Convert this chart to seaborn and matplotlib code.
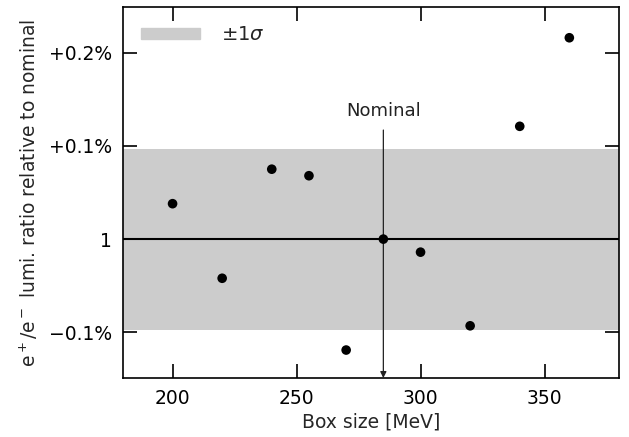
import matplotlib
matplotlib.use("Agg")
import matplotlib.pyplot as plt
import matplotlib.patches as mpatches
import seaborn as sns
import pandas as pd

# Box size scan: luminosity ratio shift relative to the nominal box (in %)
box_size = [200, 220, 240, 255, 270, 285, 300, 320, 340, 360]
ratio_shift_pct = [0.038, -0.042, 0.075, 0.068, -0.119, 0.0, -0.014, -0.093, 0.121, 0.216]
sigma_pct = 0.097
nominal_box = 285

ytick_values = [-0.1, 0.0, 0.1, 0.2]
ytick_labels = ["\u22120.1%", "1", "+0.1%", "+0.2%"]
xtick_values = [200, 250, 300, 350]

sns.set_theme(style="ticks")
plt.rcParams["font.family"] = ["DejaVu Sans"]
plt.rcParams["mathtext.fontset"] = "dejavusans"
plt.rcParams["xtick.direction"] = "in"
plt.rcParams["ytick.direction"] = "in"

df = pd.DataFrame({"box": box_size, "shift": ratio_shift_pct})

fig = plt.figure(figsize=(6.29, 4.37), dpi=100)
ax = fig.add_axes([0.1955, 0.135, 0.7885, 0.849])

ax.axhspan(-sigma_pct, sigma_pct, color="#cccccc", lw=0, zorder=0)
ax.axhline(0.0, color="black", lw=1.5, zorder=1)

sns.scatterplot(data=df, x="box", y="shift", ax=ax, color="black",
                s=48, edgecolor="none", zorder=3, legend=False)

ax.set_xlim(180, 380)
ax.set_ylim(-0.149, 0.249)

ax.annotate("", xy=(nominal_box, -0.149), xytext=(nominal_box, 0.117),
            arrowprops=dict(arrowstyle="-|>", color="#222222", lw=0.9,
                            mutation_scale=9, shrinkA=0, shrinkB=0),
            annotation_clip=False, zorder=2)
ax.text(nominal_box, 0.128, "Nominal", ha="center", va="bottom",
        fontsize=13, color="#222222")

ax.set_xticks(xtick_values)
ax.set_yticks(ytick_values)
ax.set_yticklabels(ytick_labels)
ax.tick_params(axis="both", which="both", direction="in", length=10, width=1.2,
               top=True, right=True, labelsize=13.5, colors="black", pad=8)
for sp in ax.spines.values():
    sp.set_linewidth(1.2)
    sp.set_color("black")

ax.set_xlabel("Box size [MeV]", fontsize=13.5, labelpad=3)
ax.set_ylabel("e$^+$/e$^-$ lumi. ratio relative to nominal", fontsize=13.5, labelpad=6)

band = mpatches.Patch(color="#cccccc", label=r"$\pm1\sigma$")
ax.legend(handles=[band], loc="upper left", frameon=False, fontsize=14,
          handlelength=3.0, handleheight=0.55, borderaxespad=0.45,
          borderpad=0.5, handletextpad=1.1)

fig.savefig("out.png", dpi=100)
